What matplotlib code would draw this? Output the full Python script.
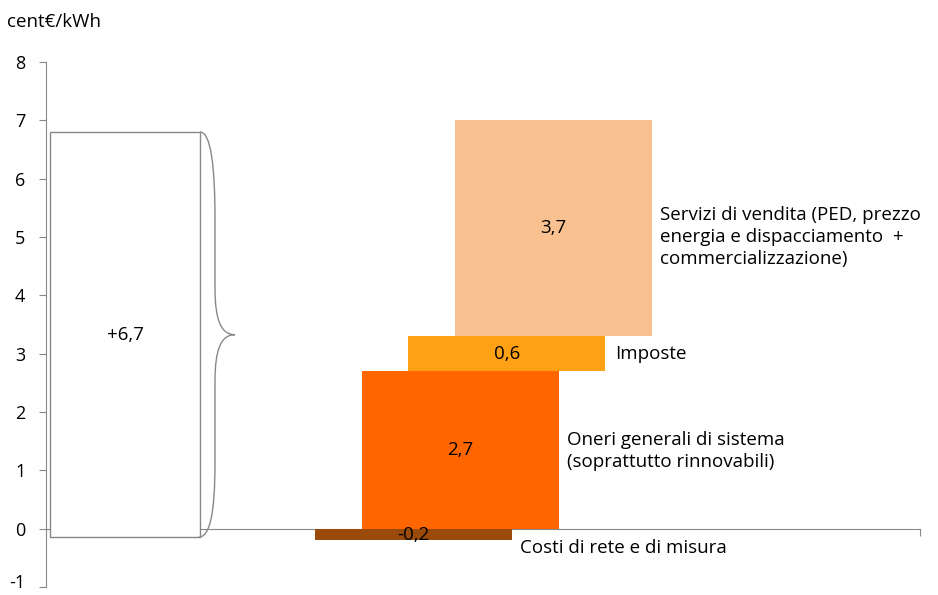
import matplotlib
matplotlib.use("Agg")
import matplotlib.pyplot as plt
import matplotlib.transforms as mtransforms
from matplotlib.patches import Rectangle, PathPatch
from matplotlib.path import Path

# ── dati (cent€/kWh) ──
voci = ["Costi di rete e di misura",
        "Oneri generali di sistema\n(soprattutto rinnovabili)",
        "Imposte",
        "Servizi di vendita (PED, prezzo\nenergia e dispacciamento  +\ncommercializzazione)"]
valori = [-0.2, 2.7, 0.6, 3.7]
etichette = ["-0,2", "2,7", "0,6", "3,7"]
colori = ["#9A4A0A", "#FF6600", "#FFA114", "#F9C090"]
totale_lbl = "+6,7"
totale_range = [-0.15, 6.8]
y_ticks = [-1, 0, 1, 2, 3, 4, 5, 6, 7, 8]

GRAY = "#888888"
FS = 13.5
plt.rcParams["font.family"] = ["Open Sans", "DejaVu Sans"]

fig = plt.figure(figsize=(9.38, 5.95), dpi=100)
ax = fig.add_axes([46 / 938, 8 / 595, 874 / 938, 525 / 595])
ax.set_xlim(0, 874)
ax.set_ylim(-1, 8)

# assi
for s in ("top", "right"):
    ax.spines[s].set_visible(False)
ax.spines["left"].set_color(GRAY)
ax.spines["bottom"].set_position(("data", 0))
ax.spines["bottom"].set_color(GRAY)
ax.spines["bottom"].set_zorder(1)
ax.set_xticks([874])
ax.set_xticklabels([""])
ax.tick_params(axis="x", length=5, color=GRAY, direction="out")
ax.set_yticks(y_ticks)
ax.set_yticklabels([str(v) for v in y_ticks], fontsize=13)
ax.tick_params(axis="y", length=5, color=GRAY, pad=10)
# "-1" leggermente più in alto per non tagliarlo
lbl_min = ax.get_yticklabels()[0]
lbl_min.set_transform(lbl_min.get_transform() +
                      mtransforms.ScaledTranslation(0, 4 / 72, fig.dpi_scale_trans))

# riquadro totale
bx0, bx1 = 4, 154
y0, y1 = totale_range
ax.add_patch(Rectangle((bx0, y0), bx1 - bx0, y1 - y0, facecolor="white",
                       edgecolor=GRAY, linewidth=1, zorder=3))
ax.text((bx0 + bx1) / 2, (y0 + y1) / 2, totale_lbl, ha="center", va="center",
        fontsize=FS, zorder=4)

# parentesi graffa
mid = (y0 + y1) / 2
xv, xt = bx1 + 15, bx1 + 35
verts = [(bx1, y1), (bx1 + 11, y1), (xv, y1 - 0.6), (xv, y1 - 1.5),
         (xv, mid + 0.8),
         (xv, mid + 0.25), (xv + 6, mid), (xt, mid),
         (xv + 6, mid), (xv, mid - 0.25), (xv, mid - 0.8),
         (xv, y0 + 1.3),
         (xv, y0 + 0.4), (bx1 + 10, y0), (bx1 - 2, y0)]
codes = [Path.MOVETO, Path.CURVE4, Path.CURVE4, Path.CURVE4,
         Path.LINETO,
         Path.CURVE4, Path.CURVE4, Path.CURVE4,
         Path.CURVE4, Path.CURVE4, Path.CURVE4,
         Path.LINETO,
         Path.CURVE4, Path.CURVE4, Path.CURVE4]
ax.add_patch(PathPatch(Path(verts, codes), facecolor="none", edgecolor=GRAY,
                       linewidth=1, zorder=3))

# barre a cascata
larghezza = 197
primo, passo = 269, 46.7
base = 0.0
basi = []
for v in valori:
    if v < 0:
        basi.append(v)
    else:
        basi.append(base)
        base += v

for i, (v, b, lbl, c) in enumerate(zip(valori, basi, etichette, colori)):
    x = primo + i * passo
    ax.bar(x, abs(v), width=larghezza, bottom=b, align="edge", color=c, zorder=2)
    ax.text(x + larghezza / 2, b + abs(v) / 2, lbl, ha="center", va="center",
            fontsize=FS, zorder=4)

# etichette a destra
ax.text(primo + larghezza + 8, -0.33, voci[0], ha="left", va="center", fontsize=FS)
ax.text(primo + passo + larghezza + 8, 1.33, voci[1], ha="left", va="center",
        fontsize=FS, linespacing=1.3)
ax.text(primo + 2 * passo + larghezza + 10, 3.0, voci[2], ha="left", va="center",
        fontsize=FS)
ax.text(primo + 3 * passo + larghezza + 8, 5.0, voci[3], ha="left", va="center",
        fontsize=FS, linespacing=1.3)

fig.text(7 / 938, 1 - 22 / 595, "cent€/kWh", ha="left", va="center", fontsize=FS)

fig.savefig("out.png", dpi=100)
